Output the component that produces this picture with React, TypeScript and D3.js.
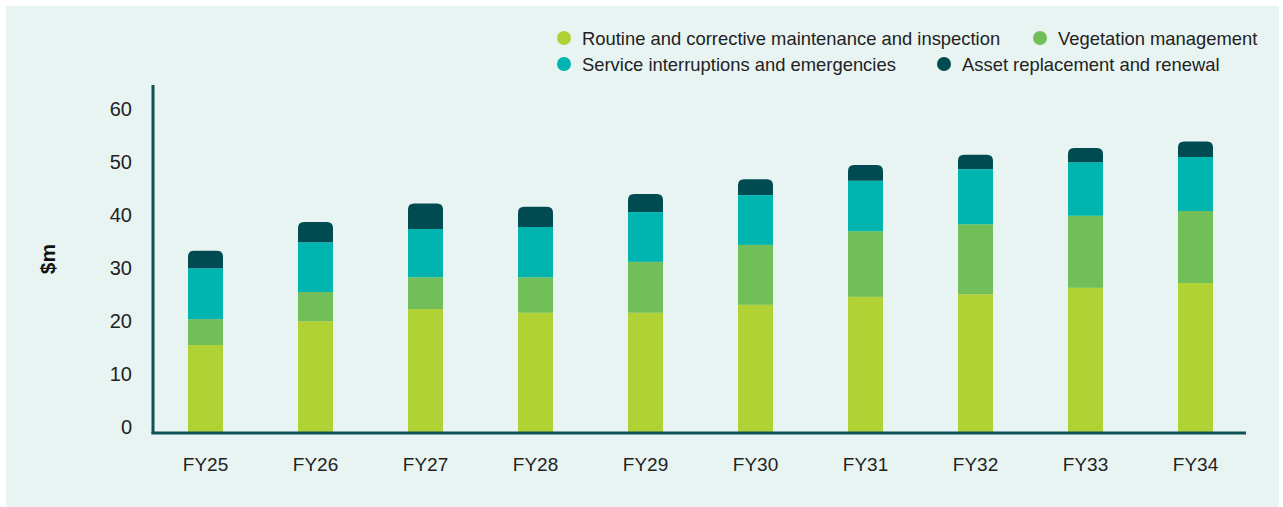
import React, { useRef, useEffect } from 'react';
import * as d3 from 'd3';

const years = ['FY25', 'FY26', 'FY27', 'FY28', 'FY29', 'FY30', 'FY31', 'FY32', 'FY33', 'FY34'];
const routine = [16.4, 20.9, 23.2, 22.5, 22.5, 24.0, 25.5, 26.0, 27.2, 28.1];
const vegetation = [4.9, 5.5, 6.0, 6.7, 9.6, 11.3, 12.4, 13.2, 13.6, 13.6];
const service = [9.6, 9.4, 9.1, 9.5, 9.4, 9.4, 9.5, 10.4, 10.1, 10.2];
const asset = [3.3, 3.8, 4.8, 3.8, 3.4, 3.0, 3.0, 2.7, 2.7, 2.9];
const yTicks = [0, 10, 20, 30, 40, 50, 60];

const seriesNames = [
  'Routine and corrective maintenance and inspection',
  'Vegetation management',
  'Service interruptions and emergencies',
  'Asset replacement and renewal',
];
const colors = ['#b0d235', '#72bf5a', '#00b5b0', '#004b52'];

export default function App() {
  const svgRef = useRef<SVGSVGElement>(null);

  useEffect(() => {
    const svg = d3.select(svgRef.current);
    svg.selectAll('*').remove();

    const font = 'Liberation Sans, Arial, sans-serif';

    svg.append('rect')
      .attr('x', 6).attr('y', 6)
      .attr('width', 1273).attr('height', 501)
      .attr('fill', '#e8f4f2');

    const x = d3.scaleBand()
      .domain(years)
      .range([150.5, 1250.5])
      .paddingInner(0.682)
      .paddingOuter(0.341);

    const y = d3.scaleLinear()
      .domain([0, 60])
      .range([432, 114]);

    const rows = years.map((yr, i) => ({
      year: yr, routine: routine[i], vegetation: vegetation[i], service: service[i], asset: asset[i],
    }));
    const keys = ['routine', 'vegetation', 'service', 'asset'];
    const stacked = d3.stack().keys(keys)(rows as any);

    const bars = svg.append('g');
    stacked.forEach((layer, li) => {
      layer.forEach((d: any) => {
        const x0 = x(d.data.year)!;
        const w = x.bandwidth();
        const top = y(d[1]);
        const bottom = y(d[0]);
        if (li === keys.length - 1) {
          // top segment gets rounded corners
          const r = 6;
          const p = d3.path();
          p.moveTo(x0, bottom);
          p.lineTo(x0, top + r);
          p.quadraticCurveTo(x0, top, x0 + r, top);
          p.lineTo(x0 + w - r, top);
          p.quadraticCurveTo(x0 + w, top, x0 + w, top + r);
          p.lineTo(x0 + w, bottom);
          p.closePath();
          bars.append('path').attr('d', p.toString()).attr('fill', colors[li]);
        } else {
          bars.append('rect')
            .attr('x', x0).attr('y', top)
            .attr('width', w).attr('height', bottom - top)
            .attr('fill', colors[li]);
        }
      });
    });

    svg.append('line')
      .attr('x1', 153).attr('x2', 153)
      .attr('y1', 85).attr('y2', 434)
      .attr('stroke', '#0d5257').attr('stroke-width', 3);
    svg.append('line')
      .attr('x1', 151.5).attr('x2', 1246)
      .attr('y1', 433).attr('y2', 433)
      .attr('stroke', '#0d5257').attr('stroke-width', 3);

    svg.append('g')
      .selectAll('text')
      .data(yTicks)
      .join('text')
      .attr('x', 132)
      .attr('y', d => y(d) - 5)
      .attr('text-anchor', 'end')
      .attr('dominant-baseline', 'central')
      .attr('font-family', font)
      .attr('font-size', 20)
      .attr('fill', '#222')
      .text(d => d);

    svg.append('g')
      .selectAll('text')
      .data(years)
      .join('text')
      .attr('x', d => x(d)! + x.bandwidth() / 2)
      .attr('y', 464)
      .attr('text-anchor', 'middle')
      .attr('dominant-baseline', 'central')
      .attr('font-family', font)
      .attr('font-size', 19)
      .attr('fill', '#222')
      .text(d => d);

    svg.append('text')
      .attr('transform', 'translate(47,259) rotate(-90)')
      .attr('text-anchor', 'middle')
      .attr('dominant-baseline', 'central')
      .attr('font-family', font)
      .attr('font-size', 21)
      .attr('font-weight', 'bold')
      .attr('fill', '#111')
      .text('$m');

    const legendPos = [[564, 38], [1040, 38], [564, 64], [944, 64]];
    const legend = svg.append('g');
    seriesNames.forEach((name, i) => {
      const [lx, ly] = legendPos[i];
      legend.append('circle')
        .attr('cx', lx).attr('cy', ly).attr('r', 7)
        .attr('fill', colors[i]);
      legend.append('text')
        .attr('x', lx + 18).attr('y', ly)
        .attr('dominant-baseline', 'central')
        .attr('font-family', font)
        .attr('font-size', 18.4)
        .attr('fill', '#222')
        .text(name);
    });
  }, []);

  return (
    <svg ref={svgRef} width={1283} height={507}
      style={{ position: 'absolute', left: 0, top: 0, display: 'block' }} />
  );
}
